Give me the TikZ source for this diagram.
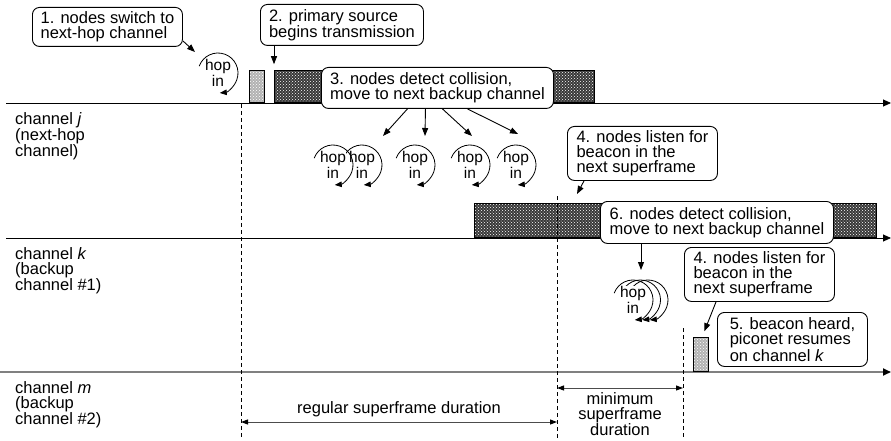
\documentclass[tikz,border=0pt]{standalone}
\usepackage{fontspec}
\setmainfont{Liberation Sans}
\usetikzlibrary{arrows.meta,patterns,calc}

% a "hop in" label with its circular arrow: name, x, y
\newcommand\hopin[3]{%
  \node[hop] (#1) at (#2,#3) {hop\\in};
  \draw[spin] ([shift={(160:20)}]#1.center) arc[start angle=160, end angle=-85, radius=20];}

\begin{document}
\begin{tikzpicture}[x=1pt, y=1pt, font=\fontsize{16.5}{15}\selectfont,
  callout/.style={draw, line width=0.9pt, rounded corners=7pt, fill=white, align=left, inner xsep=8pt, anchor=north west},
  ptr/.style={-{Triangle[length=8pt,width=6pt]}, line width=0.9pt},
  spin/.style={-{Triangle[length=7pt,width=5.5pt]}, line width=0.8pt},
  hop/.style={align=center, inner sep=0.5pt, fill=white, font=\fontsize{15.5}{13}\selectfont},
  chan/.style={-{Triangle[length=8pt,width=7pt,color=black]}, line width=0.9pt},
  guide/.style={dashed, dash pattern=on 4pt off 3pt, line width=0.9pt},
  dim/.style={{Triangle[length=7pt,width=5pt,color=black]}-{Triangle[length=7pt,width=5pt,color=black]}, line width=1pt, black!70},
  txbox/.style={draw, line width=0.8pt, preaction={fill=black!78}, pattern=crosshatch dots, pattern color=white, inner sep=0, anchor=south west},
  bcnbox/.style={draw, line width=0.8pt, preaction={fill=black!30}, pattern=crosshatch dots, pattern color=white, inner sep=0, anchor=south west},
  chlabel/.style={align=left, inner sep=0, anchor=north west}]
  \useasboundingbox (0,0) rectangle (891,440);

  % channel time lines
  \draw[chan] (6,337) -- (891,337); \draw[chan] (6,202) -- (891,202); \draw[chan, black!50, line width=2pt] (0,68) -- (891,68);
  \node[chlabel] (lj) at (15,328) {channel \textit{j}\\(next-hop\\channel)};
  \node[chlabel] (lk) at (15,193) {channel \textit{k}\\(backup\\channel \#1)};
  \node[chlabel] (lm) at (15,59) {channel \textit{m}\\(backup\\channel \#2)};

  % beacons and transmissions
  \node[bcnbox, minimum width=15, minimum height=32] (bj) at (249,337) {};
  \node[txbox, minimum width=320, minimum height=32] (txj) at (274,337) {};
  \node[txbox, minimum width=402, minimum height=34] (txk) at (474,202) {};
  \node[bcnbox, minimum width=15, minimum height=34] (bm) at (693,68) {};

  % superframe boundaries
  \coordinate (ta) at (241,336); \coordinate (tb) at (557,244); \coordinate (tc) at (683,112);
  \draw[guide] (ta) -- (ta |- 0,2); \draw[guide] (tb) -- (tb |- 0,2); \draw[guide] (tc) -- (tc |- 0,2);
  \draw[dim] (ta |- 0,18) -- (tb |- 0,18); \node[anchor=base] (reg) at (399,27) {regular superframe duration};
  \draw[dim] (tb |- 0,52) -- (tc |- 0,52); \node[anchor=north, align=center, inner sep=0] (min) at (620,48) {minimum\\superframe\\duration};

  % hops
  \hopin{h0}{218}{367}
  \hopin{hb}{362}{275} \hopin{ha}{333}{275} \hopin{hc}{415}{275} \hopin{hd}{470}{275} \hopin{he}{516}{275}
  \coordinate (hk2) at (641,140);
  \foreach \dx in {15,7.5} \draw[spin] ($(633,140)+(\dx,0)+(160:20)$) arc[start angle=160, end angle=-85, radius=20];
  \hopin{hk}{633}{140}

  % callouts
  \node[callout, minimum width=150, minimum height=39] (c1) at (32,433) {1. nodes switch to\\next-hop channel};
  \node[callout, minimum width=163, minimum height=41] (c2) at (260,436) {2. primary source\\begins transmission};
  \node[callout, minimum width=232, minimum height=41] (c3) at (321,373) {3. nodes detect collision,\\move to next backup channel};
  \node[callout, minimum width=150, minimum height=54] (c4a) at (567,314) {4. nodes listen for\\beacon in the\\next superframe};
  \node[callout, minimum width=233, minimum height=42] (c6) at (600,239) {6. nodes detect collision,\\move to next backup channel};
  \node[callout, minimum width=150, minimum height=54] (c4b) at (684,193) {4. nodes listen for\\beacon in the\\next superframe};
  \node[callout, minimum width=150, minimum height=54] (c5) at (717,128) {5. beacon heard,\\piconet resumes\\on channel \textit{k}};

  \draw[ptr] ([yshift=6]c1.south east) -- ([shift={(-23,21)}]h0.center);
  \draw[ptr] (c2.south -| txj.north west) -- ([yshift=6]txj.north west);
  \draw[ptr] ([xshift=-30]c3.south) -- ([shift={(21,29)}]hb.center);
  \draw[ptr] ([xshift=-12]c3.south) -- ([shift={(10,29)}]hc.center);
  \draw[ptr] ([xshift=5]c3.south) -- ([shift={(2,29)}]hd.center);
  \draw[ptr] ([xshift=30]c3.south) -- ([shift={(2,31)}]he.center);
  \draw[ptr] ([xshift=17]c4a.south west) -- ([shift={(20,2)}]tb);
  \draw[ptr] (c6.south -| hk2) -- ([yshift=30]hk2);
  \draw[ptr] ([xshift=32]c4b.south west) -- ([shift={(3.5,6)}]bm.north);
\end{tikzpicture}
\end{document}
